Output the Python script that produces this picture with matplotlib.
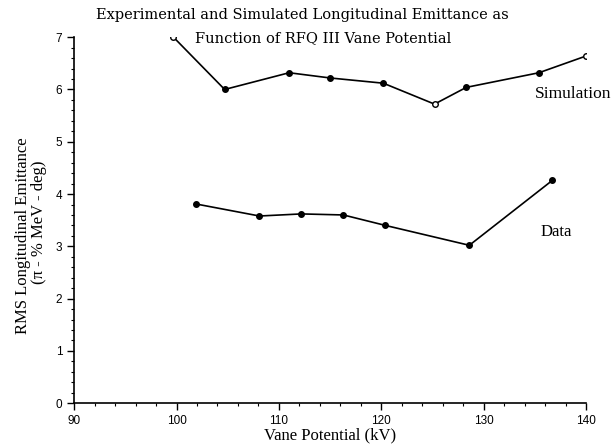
import matplotlib
matplotlib.use("Agg")
import matplotlib.pyplot as plt
from matplotlib.ticker import MultipleLocator

# Vane potential (kV) and RMS longitudinal emittance values
sim_kv = [99.7, 104.7, 111.0, 115.0, 120.2, 125.2, 128.3, 135.4, 140.0]
sim_emit = [7.0, 6.0, 6.32, 6.22, 6.12, 5.72, 6.04, 6.32, 6.64]
sim_open = [True, False, False, False, False, True, False, False, True]

data_kv = [101.9, 108.1, 112.2, 116.3, 120.4, 128.6, 136.7]
data_emit = [3.81, 3.58, 3.62, 3.60, 3.40, 3.02, 4.26]

x_ticks = [90, 100, 110, 120, 130, 140]
y_ticks = [0, 1, 2, 3, 4, 5, 6, 7]

serif = "Liberation Serif"
title_font = "DejaVu Serif"
sans = "Liberation Sans"

fig = plt.figure(figsize=(6.13, 4.48), dpi=100)
ax = fig.add_axes([0.121, 0.100, 0.835, 0.817])

ax.plot(sim_kv, sim_emit, color="black", lw=1.2, zorder=2)
for x, y, o in zip(sim_kv, sim_emit, sim_open):
    ax.plot(x, y, marker="o", ms=4, mec="black", mew=1.0,
            mfc="white" if o else "black", zorder=3)

ax.plot(data_kv, data_emit, color="black", lw=1.2, marker="o", ms=4,
        mfc="black", mec="black", zorder=3)

ax.set_xlim(90, 140)
ax.set_ylim(0, 7)
ax.set_xticks(x_ticks)
ax.set_yticks(y_ticks)
ax.xaxis.set_minor_locator(MultipleLocator(2))
ax.yaxis.set_minor_locator(MultipleLocator(0.2))
ax.tick_params(which="major", direction="out", length=5, width=1.0,
               labelsize=8.5)
ax.tick_params(which="minor", direction="out", length=2.5, width=0.8)
for lab in ax.get_xticklabels() + ax.get_yticklabels():
    lab.set_fontfamily(sans)

for s in ("top", "right"):
    ax.spines[s].set_visible(False)
for s in ("left", "bottom"):
    ax.spines[s].set_linewidth(1.2)

ax.set_xlabel("Vane Potential (kV)", family=serif, fontsize=12, labelpad=0)
fig.text(0.037, 0.475, "RMS Longitudinal Emittance", rotation=90,
         ha="center", va="center", family=serif, fontsize=12)
fig.text(0.064, 0.504, "(\u03c0 - % MeV - deg)", rotation=90,
         ha="center", va="center", family=serif, fontsize=12)

fig.text(0.493, 0.966, "Experimental and Simulated Longitudinal Emittance as",
         ha="center", va="center", family=title_font, fontsize=10.5)
fig.text(0.527, 0.915, "Function of RFQ III Vane Potential",
         ha="center", va="center", family=title_font, fontsize=10.5)

ax.text(135.0, 5.92, "Simulation", ha="left", va="center",
        family=serif, fontsize=12.5, clip_on=False)
ax.text(135.6, 3.28, "Data", ha="left", va="center",
        family=serif, fontsize=12)

fig.savefig("out.png", dpi=100)
